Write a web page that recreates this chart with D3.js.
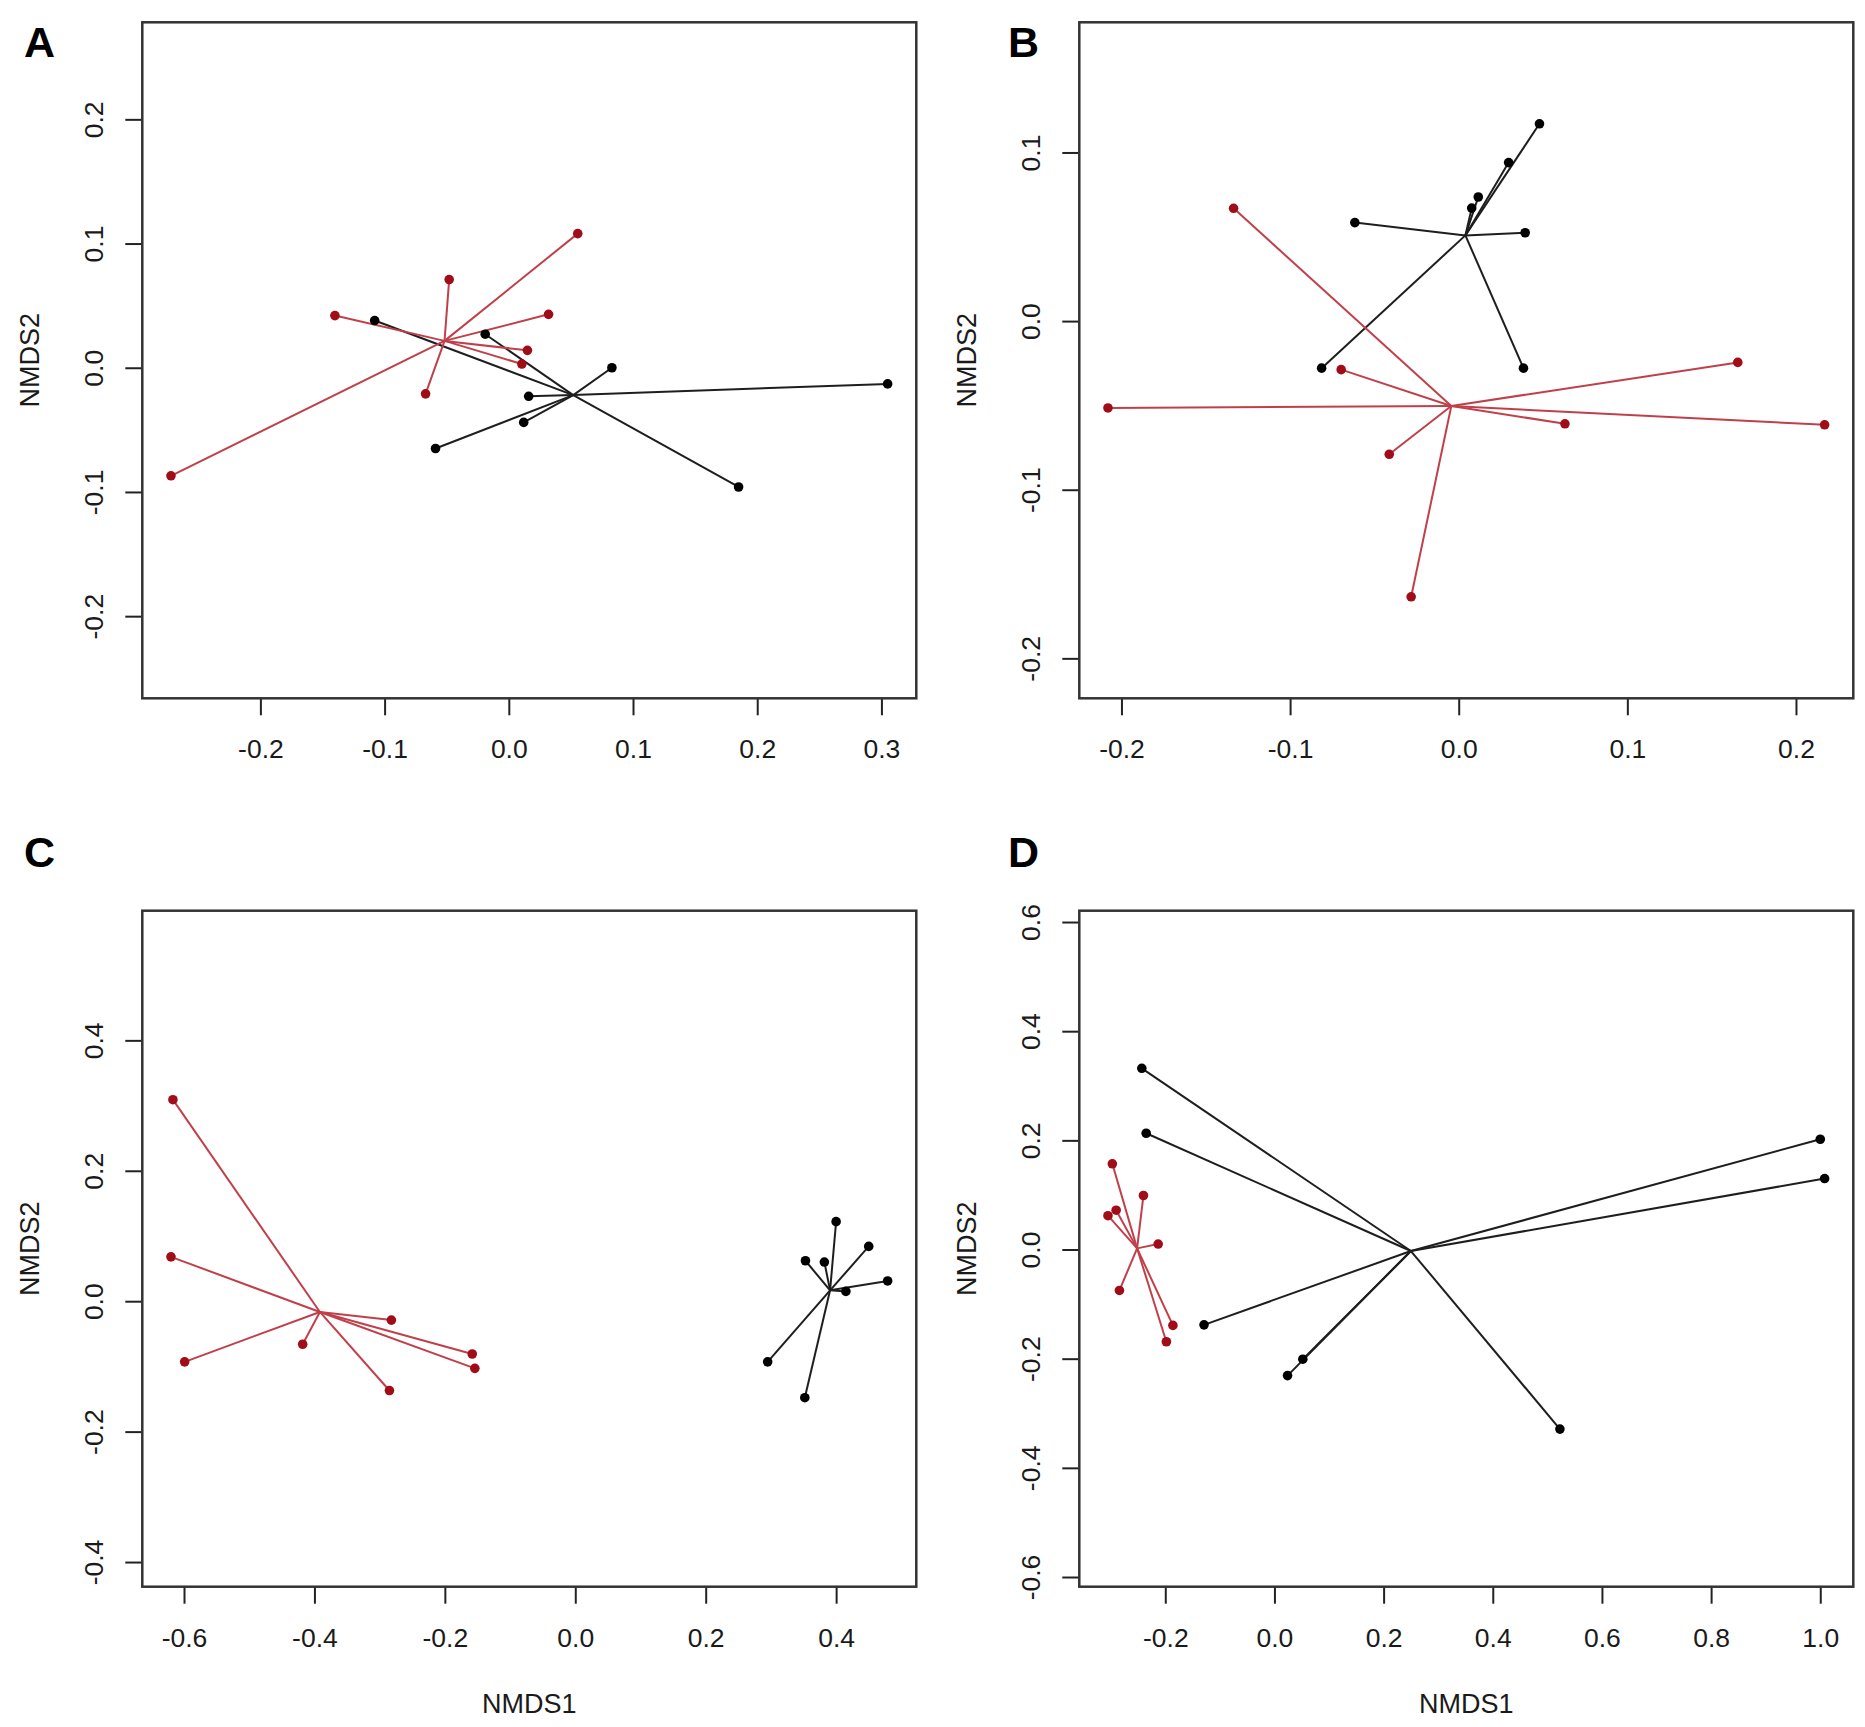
<!DOCTYPE html>
<html>
<head>
<meta charset="utf-8">
<script src="https://cdn.jsdelivr.net/npm/d3@7"></script>
<style>
  html, body { margin: 0; padding: 0; background: #fff; }
  svg { display: block; }
  text { font-family: "Liberation Sans", Arial, Helvetica, sans-serif; }
</style>
</head>
<body>
<svg id="chart" width="1865" height="1727"></svg>
<script>
// ---------------- DATA ----------------
const panelNames = ["A", "B", "C", "D"];

// Panel A
const aRedX   = [0.0555, -0.048, -0.140, 0.032, 0.015, 0.0105, -0.067, -0.272];
const aRedY   = [0.108, 0.071, 0.042, 0.043, 0.014, 0.003, -0.021, -0.087];
const aBlackX = [-0.108, -0.019, 0.083, 0.305, 0.016, 0.012, -0.059, 0.185];
const aBlackY = [0.038, 0.027, 0.000, -0.013, -0.023, -0.044, -0.065, -0.096];
const aXTicks = [-0.2, -0.1, 0.0, 0.1, 0.2, 0.3];
const aYTicks = [-0.2, -0.1, 0.0, 0.1, 0.2];

// Panel B
const bRedX   = [-0.1335, -0.0697, 0.1655, -0.208, 0.063, 0.217, -0.0412, -0.0282];
const bRedY   = [0.0669, -0.0288, -0.0245, -0.0515, -0.0609, -0.0615, -0.079, -0.1635];
const bBlackX = [0.0479, 0.0296, 0.0116, 0.0077, -0.0616, 0.0394, -0.0813, 0.0384];
const bBlackY = [0.117, 0.094, 0.0736, 0.067, 0.0584, 0.0524, -0.0279, -0.0279];
const bXTicks = [-0.2, -0.1, 0.0, 0.1, 0.2];
const bYTicks = [-0.2, -0.1, 0.0, 0.1];

// Panel C
const cRedX   = [-0.617, -0.620, -0.599, -0.418, -0.282, -0.285, -0.158, -0.154];
const cRedY   = [0.309, 0.068, -0.093, -0.066, -0.029, -0.137, -0.081, -0.103];
const cBlackX = [0.400, 0.450, 0.353, 0.382, 0.479, 0.415, 0.295, 0.352];
const cBlackY = [0.122, 0.084, 0.062, 0.060, 0.031, 0.015, -0.093, -0.148];
const cXTicks = [-0.6, -0.4, -0.2, 0.0, 0.2, 0.4];
const cYTicks = [-0.4, -0.2, 0.0, 0.2, 0.4];

// Panel D
const dRedX   = [-0.297, -0.305, -0.290, -0.240, -0.213, -0.284, -0.186, -0.198];
const dRedY   = [0.157, 0.062, 0.072, 0.099, 0.010, -0.075, -0.139, -0.169];
const dBlackX = [-0.243, -0.235, 1.000, 1.008, -0.129, 0.052, 0.024, 0.523];
const dBlackY = [0.332, 0.213, 0.202, 0.130, -0.138, -0.201, -0.231, -0.329];
const dXTicks = [-0.2, 0.0, 0.2, 0.4, 0.6, 0.8, 1.0];
const dYTicks = [-0.6, -0.4, -0.2, 0.0, 0.2, 0.4, 0.6];

const xTitle = "NMDS1";
const yTitle = "NMDS2";

// ---------------- LAYOUT ----------------
const boxW = 774, boxH = 676;
const panels = [
  { name: panelNames[0], left: 142.3, top: 22.3, lx: 24, ly: 57, xTitle: false,
    redX: aRedX, redY: aRedY, blackX: aBlackX, blackY: aBlackY, xt: aXTicks, yt: aYTicks },
  { name: panelNames[1], left: 1079.3, top: 22.3, lx: 1008, ly: 57, xTitle: false,
    redX: bRedX, redY: bRedY, blackX: bBlackX, blackY: bBlackY, xt: bXTicks, yt: bYTicks },
  { name: panelNames[2], left: 142.3, top: 910.7, lx: 24, ly: 867, xTitle: true,
    redX: cRedX, redY: cRedY, blackX: cBlackX, blackY: cBlackY, xt: cXTicks, yt: cYTicks },
  { name: panelNames[3], left: 1079.3, top: 910.7, lx: 1008, ly: 867, xTitle: true,
    redX: dRedX, redY: dRedY, blackX: dBlackX, blackY: dBlackY, xt: dXTicks, yt: dYTicks }
];

const RED_LINE = "#c0404a", RED_PT = "#a00c18";
const BLK_LINE = "#1e1e1e", BLK_PT = "#000";
const fmt = d => (Math.abs(d) < 1e-9 ? 0 : d).toFixed(1);

const svg = d3.select("#chart");
svg.append("rect").attr("width", 1865).attr("height", 1727).attr("fill", "#fff");

panels.forEach(p => {
  // R-style limits: 4% padding, then equal aspect (asp = 1)
  const allX = p.redX.concat(p.blackX), allY = p.redY.concat(p.blackY);
  const xe = d3.extent(allX), ye = d3.extent(allY);
  const xr = (xe[1] - xe[0]) * 1.08, yr = (ye[1] - ye[0]) * 1.08;
  const ppu = Math.min(boxW / xr, boxH / yr);
  const xc = (xe[0] + xe[1]) / 2, yc = (ye[0] + ye[1]) / 2;
  const hx = boxW / ppu / 2, hy = boxH / ppu / 2;

  const x = d3.scaleLinear().domain([xc - hx, xc + hx]).range([0, boxW]);
  const y = d3.scaleLinear().domain([yc - hy, yc + hy]).range([boxH, 0]);

  const g = svg.append("g").attr("transform", `translate(${p.left},${p.top})`);

  // axes
  const xa = g.append("g").attr("transform", `translate(0,${boxH})`)
    .call(d3.axisBottom(x).tickValues(p.xt).tickFormat(fmt).tickSize(17).tickSizeOuter(0));
  xa.select(".domain").remove();
  xa.selectAll(".tick line").attr("stroke", "#222").attr("stroke-width", 2);
  xa.selectAll(".tick text").attr("y", 60).attr("dy", 0)
    .attr("font-size", 26.5).attr("fill", "#1a1a1a")
    .style("font-family", '"Liberation Sans", Arial, sans-serif');

  const ya = g.append("g")
    .call(d3.axisLeft(y).tickValues(p.yt).tickFormat(fmt).tickSize(17).tickSizeOuter(0));
  ya.select(".domain").remove();
  ya.selectAll(".tick line").attr("stroke", "#222").attr("stroke-width", 2);
  ya.selectAll(".tick text")
    .attr("x", null).attr("dy", null)
    .attr("transform", "translate(-39,0) rotate(-90)")
    .attr("text-anchor", "middle")
    .attr("font-size", 26.5).attr("fill", "#1a1a1a")
    .style("font-family", '"Liberation Sans", Arial, sans-serif');

  // spider lines
  const groups = [
    { xs: p.blackX, ys: p.blackY, line: BLK_LINE, pt: BLK_PT },
    { xs: p.redX, ys: p.redY, line: RED_LINE, pt: RED_PT }
  ];
  groups.forEach(gr => {
    const cx = d3.mean(gr.xs), cy = d3.mean(gr.ys);
    const pts = gr.xs.map((v, i) => [v, gr.ys[i]]);
    g.append("g").selectAll("line").data(pts).join("line")
      .attr("x1", x(cx)).attr("y1", y(cy))
      .attr("x2", d => x(d[0])).attr("y2", d => y(d[1]))
      .attr("stroke", gr.line).attr("stroke-width", 2);
  });
  groups.forEach(gr => {
    const pts = gr.xs.map((v, i) => [v, gr.ys[i]]);
    g.append("g").selectAll("circle").data(pts).join("circle")
      .attr("cx", d => x(d[0])).attr("cy", d => y(d[1]))
      .attr("r", 4.8).attr("fill", gr.pt);
  });

  // box
  g.append("rect").attr("width", boxW).attr("height", boxH)
    .attr("fill", "none").attr("stroke", "#333").attr("stroke-width", 2.5);

  // titles
  g.append("text")
    .attr("transform", `translate(-103,${boxH / 2}) rotate(-90)`)
    .attr("text-anchor", "middle").attr("font-size", 27).attr("fill", "#1a1a1a")
    .text(yTitle);
  if (p.xTitle) {
    g.append("text").attr("x", boxW / 2).attr("y", boxH + 126)
      .attr("text-anchor", "middle").attr("font-size", 27).attr("fill", "#1a1a1a")
      .text(xTitle);
  }

  // panel letter
  svg.append("text").attr("x", p.lx).attr("y", p.ly)
    .attr("font-size", 43).attr("font-weight", "bold").attr("fill", "#000")
    .text(p.name);
});
</script>
</body>
</html>
